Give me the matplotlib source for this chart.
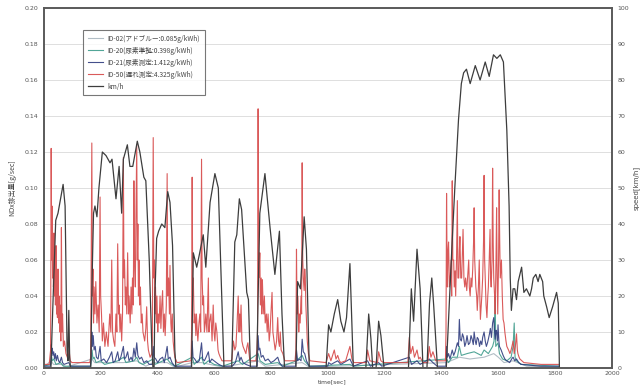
import numpy as np
import matplotlib
matplotlib.use('Agg')
import matplotlib.pyplot as plt

plt.rcParams['font.family'] = ['Noto Sans CJK JP', 'DejaVu Sans']

# 走行モードの車速 [km/h]
speed_t = [0, 26, 32, 43, 51, 60, 69, 76, 83, 86, 89, 92, 95,
           166, 171, 176, 181, 188, 195, 207, 220, 234, 241, 255, 266, 275, 281, 295, 304, 314,
           330, 339, 353, 360, 372, 381, 385,
           389, 392, 398, 405, 416, 427, 437, 445, 454, 462, 466,
           521, 527, 533, 539, 547, 562, 571, 586, 603, 615, 627, 635,
           662, 673, 680, 689, 697, 715, 721, 728,
           750, 761, 779, 797, 814, 830, 839, 848,
           888, 894, 904, 917, 925, 935,
           994, 1003, 1011, 1023, 1035, 1046, 1057, 1066, 1078, 1090,
           1134, 1144, 1152, 1158, 1170, 1179, 1187, 1198,
           1284, 1294, 1302, 1314, 1325, 1335, 1349, 1358, 1366, 1373, 1386,
           1417, 1423, 1437, 1447, 1460, 1470, 1478, 1488, 1501, 1519, 1536, 1554, 1568, 1583,
           1595, 1607, 1618, 1630, 1638, 1642, 1646, 1652, 1658, 1664, 1670, 1682, 1690, 1699,
           1711, 1717, 1723, 1732, 1740, 1746, 1756, 1760, 1770, 1779, 1791, 1805, 1811, 1815]
speed_kmh = [0, 0, 15, 41, 43, 47, 51, 45, 5, 2, 16, 3, 0,
             0, 25, 43, 45, 42, 50, 60, 59, 57, 58, 47, 56, 43, 58, 62, 56, 56,
             63, 60, 53, 52, 30, 6, 0,
             0, 20, 36, 38, 40, 39, 49, 46, 34, 5, 0,
             0, 32, 30, 28, 31, 37, 28, 46, 54, 50, 20, 0,
             0, 35, 37, 47, 44, 21, 19, 0,
             0, 43, 54, 39, 26, 38, 15, 0,
             0, 24, 22, 42, 33, 0,
             0, 12, 10, 15, 19, 13, 10, 14, 29, 0,
             0, 15, 8, 0, 0, 13, 9, 0,
             0, 22, 13, 33, 22, 0, 0, 18, 25, 17, 0,
             0, 10, 34, 50, 69, 79, 82, 83, 79, 84, 80, 85, 81, 87,
             86, 87, 85, 66, 45, 25, 16, 22, 22, 19, 24, 28, 21, 22,
             20, 22, 25, 26, 24, 26, 24, 20, 17, 14, 17, 21, 18, 0]

# NOx排出量 [g/sec]  (時刻, 値)
id50_points = [
    (0, 0.002), (20, 0.002), (25, 0.01), (27, 0.122), (29, 0.06), (30, 0.09), (32, 0.05), (33, 0.07),
    (35, 0.045), (37, 0.075), (39, 0.04), (40, 0.06), (42, 0.035), (44, 0.068), (46, 0.03), (47, 0.05),
    (49, 0.028), (51, 0.055), (53, 0.025), (55, 0.04), (57, 0.02), (58, 0.035), (61, 0.015), (63, 0.078),
    (65, 0.02), (67, 0.03), (70, 0.012), (74, 0.015), (79, 0.008), (86, 0.005), (90, 0.01), (94, 0.004),
    (100, 0.003), (163, 0.003),
    (166, 0.006), (170, 0.125), (172, 0.04), (174, 0.055), (176, 0.025), (178, 0.045), (181, 0.03),
    (184, 0.048), (188, 0.025), (192, 0.035), (196, 0.02), (199, 0.095), (201, 0.04), (204, 0.03),
    (207, 0.015), (211, 0.025), (216, 0.012), (221, 0.02), (227, 0.012), (233, 0.03), (237, 0.02),
    (240, 0.06), (243, 0.02), (247, 0.015), (251, 0.012), (255, 0.03), (258, 0.02), (261, 0.069),
    (264, 0.03), (266, 0.035), (269, 0.02), (272, 0.03), (275, 0.015), (278, 0.03), (281, 0.117),
    (283, 0.05), (285, 0.06), (288, 0.035), (290, 0.045), (293, 0.03), (296, 0.064), (299, 0.03),
    (301, 0.04), (305, 0.025), (308, 0.045), (311, 0.03), (313, 0.05), (316, 0.035), (318, 0.104),
    (320, 0.06), (323, 0.045), (325, 0.08), (328, 0.124), (330, 0.06), (332, 0.08), (334, 0.04),
    (336, 0.06), (338, 0.035), (341, 0.045), (344, 0.025), (347, 0.03), (350, 0.02), (356, 0.015),
    (360, 0.022), (363, 0.034), (366, 0.015), (369, 0.01), (375, 0.006), (381, 0.008), (383, 0.015),
    (386, 0.128), (388, 0.05), (390, 0.06), (392, 0.03), (394, 0.045), (397, 0.025), (399, 0.04),
    (402, 0.02), (404, 0.03), (407, 0.025), (410, 0.04), (413, 0.022), (416, 0.035), (419, 0.043),
    (422, 0.02), (425, 0.03), (428, 0.018), (432, 0.035), (435, 0.108), (437, 0.04), (440, 0.05),
    (443, 0.03), (445, 0.057), (448, 0.025), (450, 0.02), (453, 0.03), (456, 0.015), (459, 0.01),
    (462, 0.006), (470, 0.003), (519, 0.004),
    (521, 0.02), (523, 0.106), (525, 0.04), (527, 0.05), (530, 0.025), (533, 0.03), (536, 0.018),
    (538, 0.03), (541, 0.02), (543, 0.015), (547, 0.025), (550, 0.03), (553, 0.02), (556, 0.116),
    (558, 0.05), (561, 0.035), (563, 0.04), (566, 0.02), (569, 0.025), (571, 0.03), (575, 0.02),
    (580, 0.05), (582, 0.02), (584, 0.025), (589, 0.03), (593, 0.015), (597, 0.035), (600, 0.02),
    (603, 0.015), (606, 0.025), (610, 0.02), (614, 0.01), (617, 0.008), (622, 0.006), (628, 0.004),
    (660, 0.004),
    (663, 0.005), (668, 0.015), (673, 0.01), (677, 0.012), (681, 0.025), (685, 0.04), (688, 0.02),
    (690, 0.03), (692, 0.02), (695, 0.035), (698, 0.015), (702, 0.012), (707, 0.01), (712, 0.008),
    (716, 0.012), (719, 0.014), (723, 0.008), (726, 0.004), (747, 0.004),
    (751, 0.01), (753, 0.02), (755, 0.144), (757, 0.05), (759, 0.055), (761, 0.064), (763, 0.035),
    (766, 0.05), (768, 0.03), (770, 0.049), (772, 0.038), (775, 0.03), (777, 0.04), (780, 0.025),
    (784, 0.03), (787, 0.02), (790, 0.03), (794, 0.015), (797, 0.02), (800, 0.03), (804, 0.042),
    (807, 0.02), (811, 0.015), (815, 0.01), (820, 0.015), (824, 0.028), (827, 0.015), (830, 0.012),
    (833, 0.02), (836, 0.01), (842, 0.008), (849, 0.004), (885, 0.004),
    (888, 0.01), (890, 0.066), (892, 0.03), (895, 0.04), (898, 0.02), (900, 0.03), (903, 0.025),
    (906, 0.04), (908, 0.03), (910, 0.114), (912, 0.06), (914, 0.05), (917, 0.043), (919, 0.055),
    (921, 0.05), (923, 0.035), (925, 0.027), (928, 0.015), (932, 0.008), (937, 0.004), (994, 0.003),
    (1003, 0.008), (1011, 0.004), (1023, 0.01), (1029, 0.005), (1035, 0.007), (1041, 0.004),
    (1046, 0.003), (1063, 0.004), (1078, 0.012), (1085, 0.005), (1092, 0.003), (1136, 0.003),
    (1140, 0.01), (1148, 0.004), (1175, 0.003), (1179, 0.009), (1187, 0.004), (1196, 0.003),
    (1282, 0.003), (1287, 0.017), (1292, 0.008), (1299, 0.012), (1305, 0.006), (1314, 0.01),
    (1320, 0.005), (1325, 0.006), (1335, 0.003), (1352, 0.003), (1357, 0.012), (1363, 0.006),
    (1370, 0.009), (1380, 0.004), (1414, 0.004),
    (1416, 0.02), (1418, 0.097), (1420, 0.05), (1421, 0.045), (1423, 0.065), (1425, 0.07),
    (1428, 0.045), (1431, 0.05), (1434, 0.06), (1436, 0.04), (1438, 0.104), (1440, 0.06),
    (1443, 0.06), (1445, 0.045), (1448, 0.054), (1450, 0.04), (1453, 0.06), (1456, 0.093),
    (1458, 0.05), (1461, 0.05), (1463, 0.065), (1465, 0.073), (1468, 0.05), (1471, 0.05),
    (1473, 0.06), (1476, 0.077), (1479, 0.05), (1482, 0.045), (1485, 0.05), (1489, 0.043),
    (1492, 0.05), (1496, 0.06), (1498, 0.045), (1501, 0.04), (1504, 0.05), (1507, 0.045),
    (1510, 0.055), (1513, 0.07), (1515, 0.089), (1517, 0.06), (1521, 0.045), (1524, 0.04),
    (1526, 0.032), (1530, 0.045), (1533, 0.06), (1535, 0.04), (1537, 0.027), (1540, 0.035),
    (1542, 0.04), (1545, 0.05), (1548, 0.07), (1550, 0.107), (1552, 0.06), (1554, 0.05),
    (1557, 0.035), (1560, 0.028), (1563, 0.04), (1565, 0.045), (1568, 0.06), (1571, 0.077),
    (1573, 0.05), (1575, 0.045), (1578, 0.06), (1580, 0.111), (1582, 0.07), (1584, 0.05),
    (1587, 0.04), (1589, 0.03), (1592, 0.06), (1594, 0.089), (1596, 0.05), (1598, 0.03),
    (1601, 0.06), (1603, 0.099), (1605, 0.07), (1607, 0.05), (1609, 0.055), (1611, 0.06),
    (1614, 0.04), (1617, 0.027), (1620, 0.025), (1623, 0.02), (1627, 0.015), (1630, 0.012),
    (1636, 0.01), (1641, 0.008), (1645, 0.01), (1648, 0.012), (1652, 0.015), (1656, 0.008),
    (1660, 0.012), (1664, 0.019), (1667, 0.01), (1669, 0.008), (1673, 0.006), (1676, 0.005),
    (1690, 0.003), (1750, 0.002), (1812, 0.002)]

id21_points = [
    (0, 0.001), (24, 0.001), (26, 0.004), (27, 0.013), (29, 0.008), (31, 0.011), (33, 0.007),
    (36, 0.009), (39, 0.005), (42, 0.008), (45, 0.004), (49, 0.007), (53, 0.004), (57, 0.003),
    (63, 0.006), (67, 0.003), (72, 0.002), (89, 0.003), (95, 0.001), (165, 0.001), (168, 0.006),
    (170, 0.02), (172, 0.012), (175, 0.018), (178, 0.01), (182, 0.012), (186, 0.006), (192, 0.005),
    (199, 0.012), (203, 0.004), (212, 0.005), (222, 0.003), (232, 0.006), (240, 0.009), (245, 0.003),
    (252, 0.004), (261, 0.009), (266, 0.004), (272, 0.006), (281, 0.012), (285, 0.005), (290, 0.006),
    (296, 0.009), (301, 0.004), (308, 0.006), (313, 0.004), (318, 0.011), (323, 0.006), (328, 0.014),
    (332, 0.007), (338, 0.005), (345, 0.006), (353, 0.003), (363, 0.004), (372, 0.002), (383, 0.002),
    (386, 0.012), (389, 0.006), (395, 0.005), (402, 0.003), (410, 0.005), (419, 0.006), (425, 0.003),
    (435, 0.012), (439, 0.005), (445, 0.006), (452, 0.003), (462, 0.001), (520, 0.001), (523, 0.015),
    (526, 0.006), (532, 0.005), (540, 0.003), (548, 0.004), (556, 0.014), (560, 0.005), (566, 0.004),
    (572, 0.006), (580, 0.009), (585, 0.003), (592, 0.005), (600, 0.004), (608, 0.003), (617, 0.002),
    (630, 0.001), (664, 0.001), (675, 0.003), (685, 0.009), (690, 0.004), (695, 0.006), (702, 0.003),
    (712, 0.002), (728, 0.001), (752, 0.001), (755, 0.018), (758, 0.01), (761, 0.011), (766, 0.006),
    (772, 0.007), (780, 0.004), (790, 0.005), (800, 0.003), (811, 0.004), (824, 0.006), (830, 0.003),
    (840, 0.001), (887, 0.001), (890, 0.01), (894, 0.004), (900, 0.005), (906, 0.004), (910, 0.016),
    (914, 0.009), (919, 0.008), (925, 0.004), (935, 0.001), (1000, 0.001), (1003, 0.003),
    (1012, 0.002), (1023, 0.003), (1035, 0.004), (1046, 0.002), (1078, 0.005), (1090, 0.001),
    (1140, 0.004), (1150, 0.001), (1179, 0.003), (1190, 0.001), (1287, 0.006), (1295, 0.002),
    (1314, 0.004), (1325, 0.002), (1357, 0.005), (1370, 0.003), (1385, 0.001), (1416, 0.001),
    (1418, 0.012), (1421, 0.006), (1425, 0.008), (1430, 0.005), (1438, 0.01), (1443, 0.007),
    (1448, 0.009), (1456, 0.014), (1460, 0.012), (1463, 0.027), (1466, 0.016), (1470, 0.015),
    (1474, 0.019), (1478, 0.017), (1482, 0.012), (1486, 0.014), (1490, 0.018), (1495, 0.013),
    (1500, 0.014), (1504, 0.018), (1508, 0.016), (1512, 0.013), (1515, 0.02), (1519, 0.015),
    (1522, 0.013), (1526, 0.017), (1530, 0.016), (1534, 0.012), (1538, 0.015), (1542, 0.013),
    (1545, 0.017), (1550, 0.02), (1554, 0.015), (1558, 0.012), (1562, 0.014), (1565, 0.016),
    (1569, 0.019), (1572, 0.022), (1576, 0.017), (1580, 0.025), (1584, 0.028), (1587, 0.02),
    (1589, 0.016), (1592, 0.021), (1594, 0.02), (1597, 0.015), (1599, 0.024), (1602, 0.015),
    (1604, 0.012), (1610, 0.01), (1617, 0.007), (1623, 0.005), (1630, 0.004), (1640, 0.003),
    (1647, 0.005), (1652, 0.006), (1658, 0.004), (1664, 0.005), (1672, 0.003), (1680, 0.002),
    (1750, 0.001), (1812, 0.001)]

id20_points = [
    (0, 0.001), (26, 0.002), (28, 0.007), (31, 0.004), (36, 0.005), (44, 0.002), (60, 0.003),
    (70, 0.001), (166, 0.001), (171, 0.01), (174, 0.005), (178, 0.006), (185, 0.003), (200, 0.004),
    (215, 0.002), (240, 0.003), (262, 0.004), (282, 0.006), (290, 0.003), (318, 0.004), (328, 0.006),
    (336, 0.003), (350, 0.002), (386, 0.005), (392, 0.002), (435, 0.005), (445, 0.003), (462, 0.001),
    (523, 0.006), (530, 0.002), (556, 0.006), (565, 0.002), (580, 0.004), (600, 0.002), (630, 0.001),
    (685, 0.004), (700, 0.002), (755, 0.008), (762, 0.004), (780, 0.002), (824, 0.003), (840, 0.001),
    (890, 0.004), (910, 0.007), (918, 0.004), (935, 0.001), (1078, 0.002), (1090, 0.001),
    (1418, 0.005), (1425, 0.003), (1438, 0.006), (1456, 0.006), (1463, 0.012), (1470, 0.007),
    (1490, 0.008), (1515, 0.009), (1540, 0.007), (1550, 0.01), (1565, 0.008), (1580, 0.012),
    (1585, 0.015), (1589, 0.04), (1591, 0.012), (1599, 0.014), (1604, 0.008), (1615, 0.005),
    (1630, 0.004), (1645, 0.006), (1652, 0.012), (1656, 0.025), (1659, 0.006), (1664, 0.004),
    (1680, 0.002), (1812, 0.001)]

id02_points = [
    (0, 0.0005), (27, 0.004), (35, 0.002), (63, 0.002), (80, 0.0005), (170, 0.005), (180, 0.003),
    (281, 0.003), (328, 0.004), (360, 0.001), (386, 0.003), (435, 0.003), (462, 0.0005),
    (523, 0.003), (556, 0.003), (630, 0.0005), (685, 0.002), (755, 0.004), (780, 0.001),
    (910, 0.003), (935, 0.0005), (1418, 0.003), (1463, 0.006), (1500, 0.005), (1550, 0.006),
    (1584, 0.008), (1600, 0.006), (1620, 0.003), (1652, 0.004), (1700, 0.001), (1812, 0.0005)]

labels = ['ID-02(アドブルー:0.085g/kWh)', 'ID-20(尿素準拠:0.398g/kWh)',
          'ID-21(尿素測定:1.412g/kWh)', 'ID-50(遅れ測定:4.325g/kWh)']
colors = ['#a9b6bf', '#3f9c8c', '#2f3c7e', '#d64848']

fig = plt.figure(figsize=(6.41, 3.85), dpi=100)
ax = fig.add_axes([43.5 / 641, 1 - 368 / 385, 568.5 / 641, 360 / 385])
ax2 = ax.twinx()

handles = []
for pts, lab, col in zip([id02_points, id20_points, id21_points, id50_points], labels, colors):
    arr = np.array(pts)
    h, = ax.plot(arr[:, 0], arr[:, 1], color=col, lw=0.8, alpha=0.9, label=lab)
    handles.append(h)

hs, = ax2.plot(speed_t, speed_kmh, color='#3d3d3d', lw=0.9, label='km/h')
handles.append(hs)

ax.set_xlim(0, 2000)
ax.set_ylim(0, 0.20)
ax2.set_ylim(0, 100)
ax.set_xticks(np.arange(0, 2001, 200))
ax.set_yticks(np.arange(0, 0.201, 0.02))
ax.set_yticklabels(['%.2f' % v for v in np.arange(0, 0.201, 0.02)])
ax2.set_yticks(np.arange(0, 101, 10))

ax.grid(axis='y', color='#d9d9d9', lw=0.6)
ax.set_axisbelow(True)
for a in (ax, ax2):
    a.tick_params(length=0, labelsize=4.5, colors='#555555', pad=4)
    for s in a.spines.values():
        s.set_color('#5a5a5a')
        s.set_linewidth(1.2)
ax.tick_params(axis='x', pad=2.5)
# 目盛りの数字は DejaVu Sans で描く
for lbl in ax.get_xticklabels() + ax.get_yticklabels() + ax2.get_yticklabels():
    lbl.set_fontfamily('DejaVu Sans')

ax.set_ylabel('NOx排出量[g/sec]', fontsize=5, color='#444444', labelpad=6)
ax2.set_ylabel('speed[km/h]', fontsize=5, color='#444444', labelpad=3, family='DejaVu Sans')
fig.text(332 / 641, 0.3 / 385, 'time[sec]', fontsize=4.3, color='#444444', ha='center',
         va='bottom', family='DejaVu Sans')

leg = ax2.legend(handles=handles, loc='upper left', bbox_to_anchor=(0.0695, 0.939),
                 fontsize=4.8, frameon=True, fancybox=False, edgecolor='#555555',
                 handlelength=2.3, handletextpad=0.7, labelspacing=0.6, borderpad=0.7,
                 borderaxespad=0)
leg.get_frame().set_linewidth(0.8)
for t in leg.get_texts():
    t.set_color('#444444')

fig.savefig('out.png', dpi=100)
